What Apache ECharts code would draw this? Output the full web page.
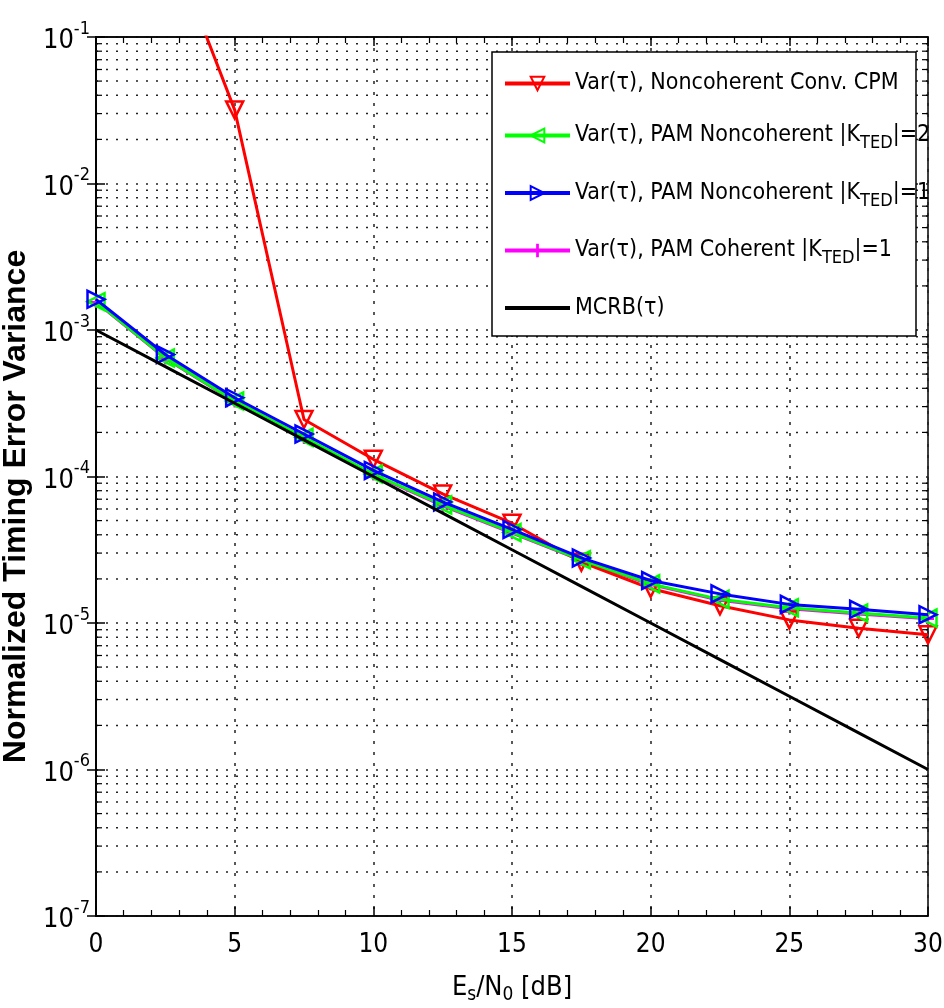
<!DOCTYPE html>
<html><head><meta charset="utf-8">
<script src="https://cdn.jsdelivr.net/npm/echarts@6/dist/echarts.min.js"></script>
<style>html,body{margin:0;padding:0;background:#fff}#c{width:944px;height:1008px}</style>
</head><body><div id="c"></div><script>
// ---- data ----
const snrDb = [0, 2.5, 5, 7.5, 10, 12.5, 15, 17.5, 20, 22.5, 25, 27.5, 30];
const varNoncohCPM = [0.9, 0.54, 0.0318, 2.45e-4, 1.31e-4, 7.6e-5, 4.8e-5, 2.6e-5, 1.72e-5, 1.31e-5, 1.05e-5, 9.2e-6, 8.3e-6];
const varPamNoncohK2 = [1.56e-3, 6.45e-4, 3.28e-4, 1.85e-4, 1.04e-4, 6.4e-5, 4.15e-5, 2.7e-5, 1.85e-5, 1.45e-5, 1.27e-5, 1.17e-5, 1.08e-5];
const varPamNoncohK1 = [1.62e-3, 6.8e-4, 3.45e-4, 1.95e-4, 1.1e-4, 6.7e-5, 4.35e-5, 2.78e-5, 1.95e-5, 1.58e-5, 1.34e-5, 1.24e-5, 1.14e-5];
const varPamCohK1 = [1.55e-3, 6.4e-4, 3.25e-4, 1.83e-4, 1.03e-4, 6.3e-5, 4.1e-5, 2.68e-5, 1.83e-5, 1.43e-5, 1.25e-5, 1.15e-5, 1.07e-5];
const mcrb = [1e-3, 5.62e-4, 3.16e-4, 1.78e-4, 1e-4, 5.62e-5, 3.16e-5, 1.78e-5, 1e-5, 5.62e-6, 3.16e-6, 1.78e-6, 1e-6];
const seriesNames = [
  'Var(τ), Noncoherent Conv. CPM',
  'Var(τ), PAM Noncoherent |K_TED|=2',
  'Var(τ), PAM Noncoherent |K_TED|=1',
  'Var(τ), PAM Coherent |K_TED|=1',
  'MCRB(τ)'
];
const xAxisTitle = '{n|E}{s|s}{n|/N}{s|0}{n| [dB]}';
const yAxisTitle = 'Normalized Timing Error Variance';
const minorMantissas = [2, 3, 4, 5, 6, 7, 8, 9];
const minorDecades = [-7, -6, -5, -4, -3, -2];

// ---- chart ----
const FN = "'Liberation Sans Narrow','DejaVu Sans Condensed','Arial Narrow',sans-serif";
const minorGridVals = [];
minorDecades.forEach(d => minorMantissas.forEach(m => minorGridVals.push(m * Math.pow(10, d))));

function mk(name, vals, color, symbol, rot, size, z, hollow) {
  return {
    name, type: 'line', data: snrDb.map((x, i) => [x, vals[i]]),
    color, symbol, symbolSize: size, symbolRotate: rot, showSymbol: symbol !== 'none',
    lineStyle: { width: 3, color },
    itemStyle: hollow ? { color: 'rgba(255,255,255,0)', borderColor: color, borderWidth: 2.5 } : { color, borderWidth: 0 },
    z, animation: false, clip: true, silent: true
  };
}
const plusPath = 'path://M4,0 L6,0 L6,4 L10,4 L10,6 L6,6 L6,10 L4,10 L4,6 L0,6 L0,4 L4,4 Z';

const series = [
  { type: 'custom', name: '_minorGrid', data: minorGridVals.map(v => [0, v]), encode: { x: 0, y: 1 },
    z: 1, silent: true, animation: false,
    renderItem: (params, api) => {
      const v = api.value(1);
      const a = api.coord([0, v]);
      const b = api.coord([30, v]);
      return { type: 'group', children: [
        { type: 'line', shape: { x1: a[0], y1: a[1], x2: b[0], y2: b[1] }, style: { stroke: '#222', lineWidth: 1.5, lineDash: [2, 8] } },
        { type: 'line', shape: { x1: a[0], y1: a[1], x2: a[0] + 6, y2: a[1] }, style: { stroke: '#000', lineWidth: 1.2 } },
        { type: 'line', shape: { x1: b[0] - 6, y1: b[1], x2: b[0], y2: b[1] }, style: { stroke: '#000', lineWidth: 1.2 } }
      ] };
    } },
  mk(seriesNames[3], varPamCohK1, '#ff00ff', plusPath, 0, 12, 3, false),
  mk(seriesNames[0], varNoncohCPM, '#ff0000', 'triangle', 180, 17, 4, true),
  mk(seriesNames[1], varPamNoncohK2, '#00ff00', 'triangle', 90, 17, 5, true),
  mk(seriesNames[2], varPamNoncohK1, '#0000ff', 'triangle', -90, 17, 6, true),
  Object.assign(mk(seriesNames[4], mcrb, '#000000', 'none', 0, 0, 7, false), { lineStyle: { width: 3, color: '#000' } })
];

const chart = echarts.init(document.getElementById('c'), null, { renderer: 'canvas' });
chart.setOption({
  animation: false,
  backgroundColor: '#fff',
  grid: { left: 96, top: 37, right: 16, bottom: 92, show: true, borderColor: '#000', borderWidth: 1.5,
    containLabel: false, outerBoundsMode: 'none' },
  xAxis: [{
    type: 'value', min: 0, max: 30, interval: 5, position: 'bottom',
    axisLine: { show: true, lineStyle: { color: '#000', width: 1.5 } },
    axisTick: { show: true, inside: true, length: 9, lineStyle: { color: '#000', width: 1.5 } },
    minorTick: { show: true, splitNumber: 5, length: 6, lineStyle: { color: '#000', width: 1.2 } },
    splitLine: { show: true, lineStyle: { type: [3, 8], color: '#222', width: 1.5 } },
    axisLabel: { fontFamily: FN, fontSize: 26, color: '#000', margin: 16 },
    name: xAxisTitle, nameLocation: 'middle', nameGap: 54,
    nameTextStyle: { color: '#000', rich: { n: { fontFamily: FN, fontSize: 27, color: '#000' }, s: { fontFamily: FN, fontSize: 19, color: '#000', padding: [16, 0, 0, 0] } } }
  }, {
    type: 'value', min: 0, max: 30, interval: 5, position: 'top',
    axisLine: { show: true, lineStyle: { color: '#000', width: 1.5 } },
    axisTick: { show: true, inside: true, length: 9, lineStyle: { color: '#000', width: 1.5 } },
    minorTick: { show: true, splitNumber: 5, length: 6, lineStyle: { color: '#000', width: 1.2 } },
    splitLine: { show: false }, axisLabel: { show: false }
  }],
  yAxis: [{
    type: 'log', logBase: 10, min: 1e-7, max: 1e-1, splitNumber: 6, position: 'left',
    axisLine: { show: true, lineStyle: { color: '#000', width: 1.5 } },
    axisTick: { show: true, inside: true, length: 9, lineStyle: { color: '#000', width: 1.5 } },
    splitLine: { show: true, lineStyle: { type: [2, 8], color: '#222', width: 1.5 } },
    axisLabel: {
      margin: 6, color: '#000',
      formatter: v => '{b|10}{e|' + Math.round(Math.log10(v)) + '}',
      rich: { b: { fontFamily: FN, fontSize: 27, color: '#000', padding: [8, 0, 0, 0] }, e: { fontFamily: FN, fontSize: 18, color: '#000', padding: [0, 0, 16, 0] } }
    },
    name: yAxisTitle, nameLocation: 'middle', nameGap: 48,
    nameTextStyle: { fontFamily: "'Liberation Sans',Arial,sans-serif", fontWeight: 'bold', fontSize: 32, color: '#000', padding: [0, 60, 0, 0] }
  }, {
    type: 'log', logBase: 10, min: 1e-7, max: 1e-1, splitNumber: 6, position: 'right',
    axisLine: { show: true, lineStyle: { color: '#000', width: 1.5 } },
    axisTick: { show: true, inside: true, length: 9, lineStyle: { color: '#000', width: 1.5 } },
    splitLine: { show: false }, axisLabel: { show: false }
  }],
  graphic: [{ type: 'rect', shape: { x: 492, y: 52, width: 424, height: 284 }, style: { fill: '#fff', stroke: '#000', lineWidth: 1.5 }, z: 15, silent: true }],
  legend: {
    orient: 'vertical', left: 503, top: 72, padding: 0, itemGap: 29, itemWidth: 65, itemHeight: 17,
    selectedMode: false, z: 20,
    lineStyle: { width: 4 },
    data: seriesNames.map(n => n === 'MCRB(τ)' ? { name: n, itemStyle: { opacity: 0 } } : n),
    formatter: name => '{n|' + name.replace('_TED', '}{s|TED}{n|') + '}',
    textStyle: { color: '#000', rich: {
      n: { fontFamily: FN, fontSize: 23, color: '#000' },
      s: { fontFamily: FN, fontSize: 18, color: '#000', padding: [16, 0, 0, 0] } } }
  },
  series
});
</script></body></html>
